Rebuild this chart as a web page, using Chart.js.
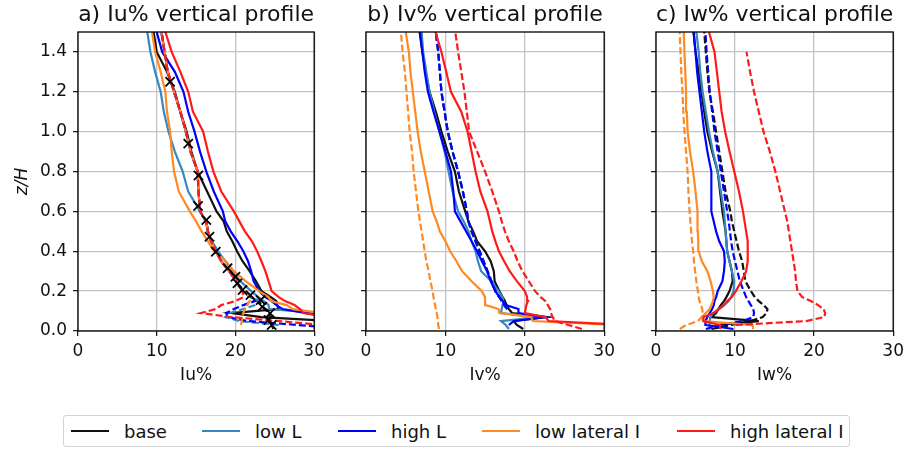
<!DOCTYPE html>
<html>
<head>
<meta charset="utf-8">
<script src="https://cdn.jsdelivr.net/npm/chart.js@4.4.1/dist/chart.umd.min.js"></script>
<style>
  body { margin: 0; background: #fff; font-family: 'DejaVu Sans', sans-serif; }
  #wrap { position: relative; width: 909px; height: 450px; overflow: hidden; }
  canvas { position: absolute; top: 0; }
  #legend { position: absolute; left: 63px; top: 415px; width: 787px; height: 32px;
            border: 1px solid #d4d4d4; border-radius: 3px; box-sizing: border-box; }
  .item { position: absolute; top: 0; height: 100%; display: flex; align-items: center;
          font-size: 18px; color: #111; white-space: nowrap; }
  .swatch { width: 38px; height: 0; border-top: 2.5px solid; margin-right: 15px; }
</style>
</head>
<body>
<div id="wrap">
  <canvas id="pa" width="330" height="386" style="left:0px"></canvas>
  <canvas id="pb" width="290" height="386" style="left:330px"></canvas>
  <canvas id="pc" width="289" height="386" style="left:620px"></canvas>
  <div id="legend"></div>
</div>
<script>
// heights z/H shared by every profile (bottom to top)
const heights = [0.01, 0.03, 0.05, 0.07, 0.09, 0.11, 0.13, 0.15, 0.17, 0.2, 0.25, 0.3, 0.35, 0.4,
                 0.45, 0.5, 0.55, 0.6, 0.7, 0.8, 0.9, 1.0, 1.1, 1.2, 1.3, 1.4, 1.5]

const caseNames = ['base', 'low L', 'high L', 'low lateral I', 'high lateral I']
const caseColors = ['#111111', '#3488c0', '#0000ff', '#ff8a24', '#ff1a1a']
const xTicks = [0, 10, 20, 30]

// a) Iu%  - solid: measured, dashed: inflow
const iuBase    = [null, null, 32, 23.3, 19.5, 25.5, 25.3, 25.2, 24.5, 23.3, 22.6, 21.8, 20.9, 20.2, 19.6, 18.9, 18.5, 17.6, 16.4, 15.2, 14.4, 13.8, 13.0, 12.3, 11.3, 10.0, 9.6]
const iuLowL    = [null, null, null, 32, 30.5, 24.3, 24.2, 23.6, 22.9, 22.0, 20.6, 19.6, 18.7, 17.8, 17.0, 16.5, 16.2, 15.5, 14.0, 13.3, 12.3, 11.5, 10.9, 10.5, 9.8, 9.2, 8.8]
const iuHighL   = [null, null, null, 32, 29.0, 26.0, 25.2, 24.6, 23.8, 23.0, 22.3, 22.0, 21.6, 21.0, 20.25, 19.4, 18.7, 18.4, 17.25, 16.3, 15.5, 14.8, 14.0, 13.4, 12.3, 10.7, 10.0]
const iuLowLat  = [null, null, null, null, 31, 27.3, 26.5, 24.5, 24.2, 23.0, 21.3, 19.8, 18.8, 17.3, 16.5, 15.7, 15.0, 14.2, 12.8, 12.2, 11.9, 11.7, 11.3, 11.1, 10.5, 9.8, 9.4]
const iuHighLat = [null, null, null, 32, 28.6, 28.2, 27.5, 26.3, 25.5, 24.6, 24.2, 23.8, 23.3, 22.75, 22.1, 21.2, 20.5, 19.8, 18.2, 17.2, 16.5, 15.9, 14.6, 14.0, 13.0, 11.9, 11.1]
const iuBaseIn    = [24.8, 24.6, 24.3, 24.3, 24.4, 23.8, 23.3, 23.0, 21.9, 20.9, 20.1, 19.2, 18.2, 17.5, 16.9, 16.5, 16.3, 15.5, 15.3, 15.2, 14.3, 13.7, 13.0, 12.2, 11.4, 11.0, 10.6]
const iuLowLIn    = [null, 25.5, 20.5, 18.7, 19.3, 21.0, 22.5, 23.0, 21.9, 20.9, 20.1, 19.2, 18.2, 17.5, 16.9, 16.5, 16.3, 15.5, 15.3, 15.2, 14.3, 13.7, 13.0, 12.2, 11.4, 11.0, 10.6]
const iuHighLIn   = [34, 28.0, 21.5, 19.1, 18.8, 19.8, 21.0, 22.5, 21.9, 20.9, 20.1, 19.2, 18.2, 17.5, 16.9, 16.5, 16.3, 15.5, 15.3, 15.2, 14.3, 13.7, 13.0, 12.2, 11.4, 11.0, 10.6]
const iuLowLatIn  = [null, 20.7, 20.8, 20.9, 21.0, 21.2, 21.5, 21.8, 21.9, 20.9, 20.1, 19.2, 18.2, 17.5, 16.9, 16.5, 16.3, 15.5, 15.3, 15.2, 14.3, 13.7, 13.0, 12.2, 11.4, 11.0, 10.6]
const iuHighLatIn = [null, 31, 25.5, 19.4, 15.6, 17.5, 18.2, 20.0, 21.0, 20.9, 20.1, 19.2, 18.2, 17.5, 16.9, 16.5, 16.3, 15.5, 15.3, 15.2, 14.3, 13.7, 13.0, 12.2, 11.4, 11.0, 10.6]
// reference points (x markers)
const iuRefZ = [1.25, 0.94, 0.78, 0.627, 0.557, 0.473, 0.398, 0.315, 0.272, 0.239, 0.206, 0.18, 0.155, 0.122, 0.089, 0.055, 0.03]
const iuRefX = [11.7, 14.0, 15.3, 15.25, 16.3, 16.7, 17.5, 19.0, 20.0, 20.25, 20.9, 21.9, 23.2, 23.4, 24.4, 24.2, 24.6]

// b) Iv%
const ivBase    = [19.8, 19.0, 18.6, 22.7, 18.4, 18.0, 17.7, 17.5, 17.2, 16.8, 16.2, 16.1, 15.7, 15.0, 14.0, 13.5, 12.9, 12.5, 11.7, 11.2, 10.3, 9.5, 8.8, 8.0, 7.5, 7.1, 6.75]
const ivLowL    = [18.0, 17.6, 17.0, 21.8, 17.0, 17.1, 17.2, 17.3, 17.2, 16.7, 15.8, 14.5, 14.1, 13.8, 13.3, 12.9, 12.3, 11.6, 10.9, 10.4, 9.9, 9.25, 8.6, 8.0, 7.6, 7.2, 7.0]
const ivHighL   = [null, 18.0, 18.6, 22.6, 19.2, 19.2, 17.6, 17.2, 16.8, 16.3, 15.7, 15.25, 14.6, 14.0, 13.3, 12.6, 11.9, 11.2, 11.0, 10.7, 10.0, 9.25, 8.5, 7.8, 7.4, 7.1, 6.8]
const ivLowLat  = [null, 32, 21.0, 20.8, 16.8, 16.7, 15.1, 15.0, 15.0, 14.6, 13.3, 12.1, 11.4, 10.6, 10.0, 9.3, 8.9, 8.4, 7.9, 7.4, 6.9, 6.5, 6.2, 5.9, 5.6, 5.4, 5.0]
const ivHighLat = [null, 33, 23.0, 22.6, 20.0, 20.1, 20.2, 20.4, 20.3, 20.0, 19.0, 18.1, 17.4, 16.75, 16.3, 15.9, 15.6, 15.3, 14.4, 13.8, 13.3, 12.8, 12.0, 10.7, 10.1, 9.5, 8.75]
const ivMidIn     = [null, null, null, null, null, 17.8, 17.4, 17.1, 16.8, 16.3, 15.8, 15.3, 14.8, 14.3, 13.8, 13.3, 12.9, 12.7, 12.2, 11.6, 10.9, 10.3, 9.9, 9.5, 9.3, 9.1, 8.8]
const ivLowLatIn  = [9.2, 9.1, 9.05, 9.0, 8.9, 8.8, 8.7, 8.6, 8.5, 8.4, 8.1, 7.9, 7.6, 7.4, 7.2, 7.0, 6.8, 6.6, 6.3, 6.0, 5.8, 5.5, 5.3, 5.1, 4.9, 4.6, 4.4]
const ivHighLatIn = [27.2, 25.5, 23.8, 23.5, 23.3, 23.2, 22.9, 22.6, 22.0, 21.3, 20.5, 19.7, 19.1, 18.6, 18.0, 17.5, 17.1, 16.75, 15.9, 15.0, 14.0, 13.0, 12.7, 12.4, 12.0, 11.6, 11.25]

// c) Iw%
const iwBase    = [8.0, 8.0, 13.0, 7.0, 7.6, 7.9, 8.2, 8.6, 8.9, 9.3, 9.7, 9.6, 9.3, 9.0, 8.9, 8.8, 8.6, 8.4, 8.1, 7.8, 7.1, 6.5, 6.1, 5.75, 5.4, 5.0, 4.75]
const iwLowL    = [6.8, 6.8, 6.75, 6.9, 7.2, 8.0, 8.6, 9.2, 9.5, 9.8, 9.9, 9.6, 9.3, 9.0, 8.9, 8.8, 8.7, 8.6, 8.2, 7.8, 7.2, 6.7, 6.3, 5.9, 5.6, 5.4, 5.1]
const iwHighL   = [9.8, 6.3, 6.25, 6.5, 6.8, 7.1, 7.3, 7.4, 7.6, 7.8, 8.4, 8.6, 8.7, 8.6, 8.0, 7.6, 7.3, 7.0, 7.0, 7.0, 6.5, 6.1, 5.8, 5.5, 5.2, 5.0, 4.75]
const iwLowLat  = [12.3, 12.2, 6.0, 5.8, 6.3, 6.8, 7.0, 7.2, 7.3, 7.2, 6.9, 6.5, 5.8, 5.4, 5.35, 5.3, 5.3, 5.2, 5.0, 4.7, 4.3, 4.0, 3.9, 3.8, 3.7, 3.6, 3.5]
const iwHighLat = [8.1, 8.1, 6.0, 6.0, 7.3, 7.9, 8.6, 9.0, 9.6, 10.1, 10.8, 11.4, 11.6, 11.6, 11.6, 11.4, 11.2, 11.0, 10.5, 9.9, 9.3, 8.75, 8.3, 8.0, 7.7, 7.4, 6.7]
const iwBaseIn    = [7.0, 9.5, 12.0, 13.5, 14.0, 14.1, 13.6, 13.0, 12.5, 12.0, 11.3, 11.1, 10.9, 10.5, 10.2, 9.9, 9.6, 9.4, 8.8, 8.4, 8.0, 7.6, 7.2, 6.75, 6.5, 6.3, 6.1]
const iwHighLIn   = [6.3, 8.0, 11.0, 12.3, 12.4, 12.3, 12.0, 11.7, 11.4, 11.1, 10.6, 10.3, 10.0, 9.7, 9.5, 9.35, 9.2, 9.0, 8.6, 8.2, 7.8, 7.4, 7.1, 6.8, 6.6, 6.4, 6.25]
const iwLowLatIn  = [3.0, 3.8, 5.3, 5.8, 5.9, 5.85, 5.7, 5.5, 5.4, 5.3, 5.1, 4.95, 4.8, 4.7, 4.55, 4.45, 4.35, 4.25, 4.1, 4.0, 3.8, 3.6, 3.45, 3.35, 3.2, 3.1, 3.0]
const iwHighLatIn = [null, 10.1, 19.0, 21.3, 21.4, 21.2, 20.5, 19.6, 18.5, 17.9, 17.7, 17.6, 17.4, 17.2, 17.0, 16.8, 16.6, 16.3, 15.7, 15.1, 14.4, 13.6, 13.0, 12.4, 11.9, 11.45, null]

Chart.defaults.font.family = "'DejaVu Sans', sans-serif"
Chart.defaults.color = '#111'

function toPoints(xs) {
  const pts = []
  heights.forEach((z, i) => {
    if (xs[i] !== null) pts.push({ x: xs[i], y: z })
  })
  return pts
}

function lineSet(xs, k, dashed) {
  return {
    label: caseNames[k] + (dashed ? ' (inflow)' : ''),
    data: toPoints(xs),
    showLine: true,
    borderColor: caseColors[k],
    backgroundColor: caseColors[k],
    borderWidth: 2.2,
    borderDash: dashed ? [7, 3] : [],
    pointRadius: 0,
    pointHoverRadius: 0,
  }
}

// draw full box round the axes, above the lines like matplotlib spines
const frame = {
  id: 'frame',
  afterDatasetsDraw(chart) {
    const { ctx, chartArea: a } = chart
    ctx.save()
    ctx.strokeStyle = '#000'
    ctx.lineWidth = 1.3
    ctx.strokeRect(a.left, a.top, a.right - a.left, a.bottom - a.top)
    ctx.restore()
  },
}

const panels = [
  { id: 'pa', title: 'a) Iu% vertical profile', xLabel: 'Iu%', yWidth: 78, padRight: 12, showY: true,
    solid: [iuBase, iuLowL, iuHighL, iuLowLat, iuHighLat],
    dashed: [iuBaseIn, iuLowLIn, iuHighLIn, iuLowLatIn, iuHighLatIn] },
  { id: 'pb', title: 'b) Iv% vertical profile', xLabel: 'Iv%', yWidth: 36, padRight: 13, showY: false,
    solid: [ivBase, ivLowL, ivHighL, ivLowLat, ivHighLat],
    dashed: [ivMidIn, ivMidIn, ivMidIn, ivLowLatIn, ivHighLatIn] },
  { id: 'pc', title: 'c) Iw% vertical profile', xLabel: 'Iw%', yWidth: 36, padRight: 13, showY: false,
    solid: [iwBase, iwLowL, iwHighL, iwLowLat, iwHighLat],
    dashed: [iwBaseIn, null, iwHighLIn, iwLowLatIn, iwHighLatIn] },
]

panels.forEach((p) => {
  const datasets = []
  for (let k = 0; k < caseNames.length; k++) {
    datasets.push(lineSet(p.solid[k], k, false))
    if (p.dashed[k]) datasets.push(lineSet(p.dashed[k], k, true))
  }
  if (p.id === 'pa') {
    datasets.push({
      label: 'reference',
      data: iuRefX.map((x, i) => ({ x, y: iuRefZ[i] })),
      showLine: false,
      pointStyle: 'crossRot',
      pointRadius: 6.5,
      pointHoverRadius: 6.5,
      borderColor: '#000',
      borderWidth: 1.8,
    })
  }
  // chart.js paints the first dataset last, so flip to keep the plotting order
  datasets.reverse()

  const grid = { color: '#c4c4c4', lineWidth: 1.3, tickColor: '#111', tickLength: 5, tickWidth: 1.2 }

  new Chart(document.getElementById(p.id), {
    type: 'scatter',
    data: { datasets },
    options: {
      responsive: false,
      animation: false,
      events: [],
      layout: { padding: { left: 0, right: p.padRight, top: 0, bottom: 0 } },
      plugins: {
        legend: { display: false },
        tooltip: { enabled: false },
        title: {
          display: true,
          text: p.title,
          fullSize: false,
          font: { size: 22, weight: 'normal' },
          color: '#111',
          padding: { top: 2, bottom: 3.6 },
        },
      },
      scales: {
        x: {
          type: 'linear',
          min: 0,
          max: 30,
          afterBuildTicks: (s) => { s.ticks = xTicks.map((v) => ({ value: v })) },
          ticks: { font: { size: 17 }, padding: 5, maxRotation: 0 },
          grid,
          border: { display: false },
          title: { display: true, text: p.xLabel, font: { size: 17 }, padding: { top: 0, bottom: 0 } },
          afterFit: (s) => { s.height = 55 },
        },
        y: {
          type: 'linear',
          min: 0,
          max: 1.5,
          ticks: {
            stepSize: 0.2,
            includeBounds: false,
            display: p.showY,
            font: { size: 17 },
            padding: 6,
            callback: (v) => v.toFixed(1),
          },
          grid,
          border: { display: false },
          title: {
            display: p.showY,
            text: 'z/H',
            font: { size: 17, style: 'italic' },
            padding: { top: 12, bottom: 0 },
          },
          afterFit: (s) => { s.width = p.yWidth },
        },
      },
    },
    plugins: [frame],
  })
})

// legend below the panels
const legendLeft = [7, 138, 274, 418, 613]
const legend = document.getElementById('legend')
caseNames.forEach((name, k) => {
  const item = document.createElement('div')
  item.className = 'item'
  item.style.left = legendLeft[k] + 'px'
  const sw = document.createElement('span')
  sw.className = 'swatch'
  sw.style.borderTopColor = caseColors[k]
  const txt = document.createElement('span')
  txt.textContent = name
  item.appendChild(sw)
  item.appendChild(txt)
  legend.appendChild(item)
})
</script>
</body>
</html>
